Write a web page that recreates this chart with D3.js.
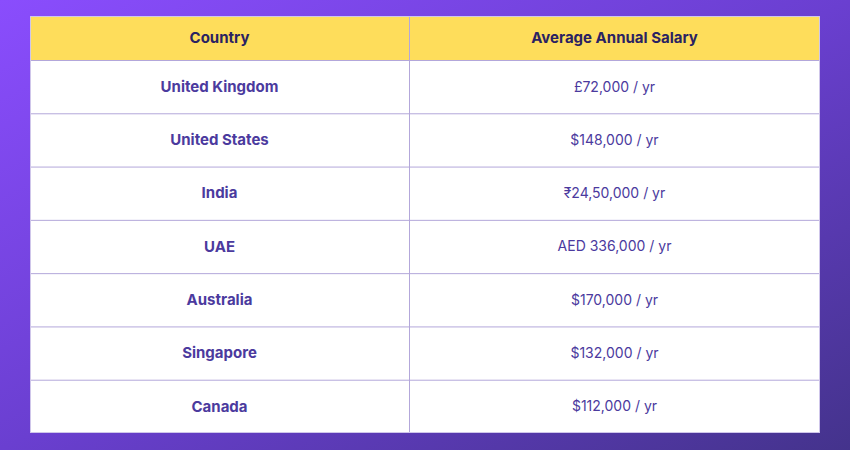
<!DOCTYPE html>
<html><head><meta charset="utf-8">
<script src="https://cdn.jsdelivr.net/npm/d3@7"></script>
<style>body{margin:0;overflow:hidden}</style>
</head><body>
<div id="chart"></div>
<script>
// table contents
const headers = ["Country", "Average Annual Salary"];
const countries = ["United Kingdom", "United States", "India", "UAE", "Australia", "Singapore", "Canada"];
const salaries = ["£72,000 / yr", "$148,000 / yr", "₹24,50,000 / yr", "AED 336,000 / yr", "$170,000 / yr", "$132,000 / yr", "$112,000 / yr"];

const W = 850, H = 450;
const tLeft = 30, tRight = 820, tTop = 16, headH = 44, tBottom = 433;
const font = "Inter, 'Open Sans', sans-serif";

const svg = d3.select("#chart").append("svg").attr("width", W).attr("height", H);

const grad = svg.append("defs").append("linearGradient").attr("id", "bg")
    .attr("x1", "0").attr("y1", "0").attr("x2", "1").attr("y2", "1");
grad.append("stop").attr("offset", "0").attr("stop-color", "#8a4dfd");
grad.append("stop").attr("offset", "0.5").attr("stop-color", "#6a3fd0");
grad.append("stop").attr("offset", "1").attr("stop-color", "#44338c");
svg.append("rect").attr("width", W).attr("height", H).attr("fill", "url(#bg)");

// first column ends at 409
const colX = [tLeft, 409, tRight];
const y = d3.scaleBand().domain(d3.range(countries.length)).range([tTop + headH, tBottom]);

// header
svg.append("rect").attr("x", tLeft).attr("y", tTop).attr("width", tRight - tLeft).attr("height", headH)
    .attr("fill", "#fedd5b");
svg.selectAll(".hd").data(headers).join("text")
    .attr("x", (d, i) => (colX[i] + colX[i + 1]) / 2)
    .attr("y", tTop + headH / 2)
    .attr("dy", "0.35em").attr("text-anchor", "middle")
    .attr("font-family", font).attr("font-weight", 700).attr("font-size", 15)
    .attr("fill", "#2a2262").text(d => d);

// body
svg.append("rect").attr("x", tLeft).attr("y", tTop + headH).attr("width", tRight - tLeft)
    .attr("height", tBottom - tTop - headH).attr("fill", "#fff");

const rows = svg.selectAll(".row").data(countries).join("g")
    .attr("transform", (d, i) => `translate(0,${y(i)})`);
rows.append("text")
    .attr("x", (colX[0] + colX[1]) / 2).attr("y", y.bandwidth() / 2)
    .attr("dy", "0.35em").attr("text-anchor", "middle")
    .attr("font-family", font).attr("font-weight", 700).attr("font-size", 15)
    .attr("fill", "#4b3a9e").text(d => d);
rows.append("text")
    .attr("x", (colX[1] + colX[2]) / 2).attr("y", y.bandwidth() / 2)
    .attr("dy", "0.35em").attr("text-anchor", "middle")
    .attr("font-family", font).attr("font-weight", 400).attr("font-size", 14)
    .attr("fill", "#4b3a9e").text((d, i) => salaries[i]);

// grid lines
const lineCol = "#b3a7da";
svg.selectAll(".hl").data(d3.range(countries.length)).join("line")
    .attr("x1", tLeft).attr("x2", tRight)
    .attr("y1", d => y(d) + 0.5).attr("y2", d => y(d) + 0.5)
    .attr("stroke", lineCol);
svg.append("line").attr("x1", colX[1] + 0.5).attr("x2", colX[1] + 0.5)
    .attr("y1", tTop).attr("y2", tBottom).attr("stroke", lineCol);
svg.append("rect").attr("x", tLeft + 0.5).attr("y", tTop + 0.5)
    .attr("width", tRight - tLeft - 1).attr("height", tBottom - tTop - 1)
    .attr("fill", "none").attr("stroke", "#cfc6ea");
</script>
</body></html>
